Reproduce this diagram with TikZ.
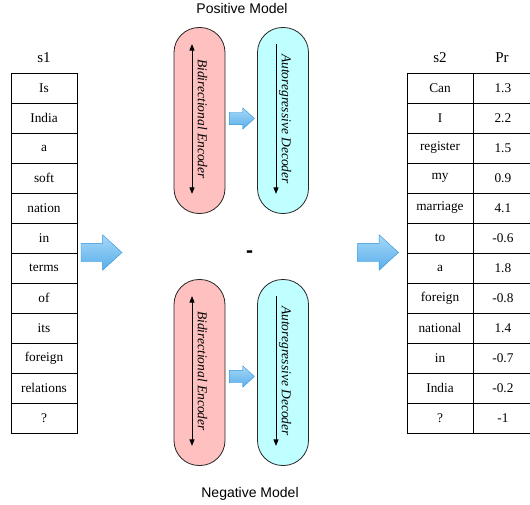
\documentclass[tikz,border=0pt]{standalone}
\usepackage{fontspec}
\setmainfont{Liberation Serif}
\setsansfont{Liberation Sans}
\usepackage{xcolor}
\usepackage{tikz}
\usetikzlibrary{positioning,shapes.arrows,arrows.meta}

\definecolor{encpink}{HTML}{FFC0C0}
\definecolor{deccyan}{HTML}{C0FFFF}
\definecolor{arrowlight}{HTML}{A6D8F8}
\definecolor{arrowdark}{HTML}{58AEEA}
\definecolor{arrowedge}{HTML}{2F93DA}

\begin{document}
\begin{tikzpicture}[x=1pt, y=1pt,
		cell/.style={draw, line width=0.9pt, minimum width=66pt, minimum height=30pt, inner sep=0pt, font=\fontsize{13.3}{14}\selectfont},
		prcell/.style={cell, minimum width=58pt},
		head/.style={font=\fontsize{15}{16}\selectfont},
		modelname/.style={font=\sffamily\fontsize{14}{15}\selectfont},
		capsule/.style={draw=black!85, line width=0.8pt, rounded corners=25pt, minimum width=51pt, minimum height=186pt, inner sep=0pt},
		captext/.style={rotate=-90, inner sep=0pt, font=\itshape\fontsize{13.5}{14}\selectfont},
		bigarrow/.style={single arrow, draw=arrowedge, top color=arrowlight, bottom color=arrowdark, minimum height=41pt, inner xsep=0pt, inner ysep=9pt, outer sep=0pt, single arrow head extend=8.5pt, single arrow tip angle=85},
		smallarrow/.style={bigarrow, minimum height=25pt, inner ysep=6pt, single arrow head extend=4.5pt},
		tip/.style={line width=0.8pt, arrows={-Triangle[length=6.5pt,width=5pt]}}]
		\useasboundingbox (0,0) rectangle (530,-505);

		\node[head] (s1) at (44,-58) {s1};
		\foreach \w [count=\i] in {Is,India,a,soft,nation,in,terms,of,its,foreign,relations,?}
			\node[cell] (sa\i) at (44,{-88-30*(\i-1)}) {\w};

		\node[head] (s2) at (440,-58) {s2};
		\node[head] (pr) at (502,-58) {Pr};
		\foreach \w/\p [count=\i] in {Can/1.3,I/2.2,register/1.5,my/0.9,marriage/4.1,to/-0.6,a/1.8,foreign/-0.8,national/1.4,in/-0.7,India/-0.2,?/-1} {
			\node[cell] (sb\i) at (440,{-88-30*(\i-1)}) {\w};
			\node[prcell, right=0pt of sb\i] (pr\i) {\p};
		}

		\node[bigarrow, anchor=tail] (inarrow) at (81,-252.5) {};
		\node[bigarrow, anchor=tail] (outarrow) at (357.5,-252.5) {};

		\node[modelname] (posmodel) at (242,-8) {Positive Model};
		\node[capsule, fill=encpink] (enctop) at (199.5,-120.5) {};
		\node[capsule, fill=deccyan] (dectop) at (283,-120.5) {};
		\node[smallarrow, anchor=tail] (toparrow) at ([xshift=4pt,yshift=2pt]enctop.east) {};
		\node[captext] (enctoptext) at ([xshift=3pt,yshift=1.5pt]enctop.center) {Bidirectional Encoder};
		\node[captext] (dectoptext) at ([xshift=2pt,yshift=1.5pt]dectop.center) {Autoregressive Decoder};
		\coordinate (enctopa) at ([xshift=-7.5pt,yshift=-17pt]enctop.north);
		\coordinate (enctopb) at ([xshift=-7.5pt,yshift=20pt]enctop.south);
		\coordinate (dectopa) at ([xshift=-7pt,yshift=-17pt]dectop.north);
		\coordinate (dectopb) at ([xshift=-7pt,yshift=20pt]dectop.south);
		\draw[tip, arrows={Triangle[length=6.5pt,width=5pt]-Triangle[length=6.5pt,width=5pt]}] (enctopa) -- (enctopb);
		\draw[tip] (dectopa) -- (dectopb);

		\node[font=\sffamily\bfseries\fontsize{21}{22}\selectfont] (minus) at (249.5,-254) {-};

		\node[capsule, fill=encpink] (encbot) at (199.5,-372.5) {};
		\node[capsule, fill=deccyan] (decbot) at (283,-372.5) {};
		\node[smallarrow, anchor=tail] (botarrow) at ([xshift=4pt,yshift=-4pt]encbot.east) {};
		\node[captext] (encbottext) at ([xshift=3pt,yshift=1.5pt]encbot.center) {Bidirectional Encoder};
		\node[captext] (decbottext) at ([xshift=2pt,yshift=1.5pt]decbot.center) {Autoregressive Decoder};
		\coordinate (encbota) at ([xshift=-7.5pt,yshift=-17pt]encbot.north);
		\coordinate (encbotb) at ([xshift=-7.5pt,yshift=20pt]encbot.south);
		\coordinate (decbota) at ([xshift=-7pt,yshift=-17pt]decbot.north);
		\coordinate (decbotb) at ([xshift=-7pt,yshift=20pt]decbot.south);
		\draw[tip, arrows={Triangle[length=6.5pt,width=5pt]-Triangle[length=6.5pt,width=5pt]}] (encbota) -- (encbotb);
		\draw[tip] (decbota) -- (decbotb);
		\node[modelname] (negmodel) at (250,-494) {Negative Model};
	\end{tikzpicture}
\end{document}
